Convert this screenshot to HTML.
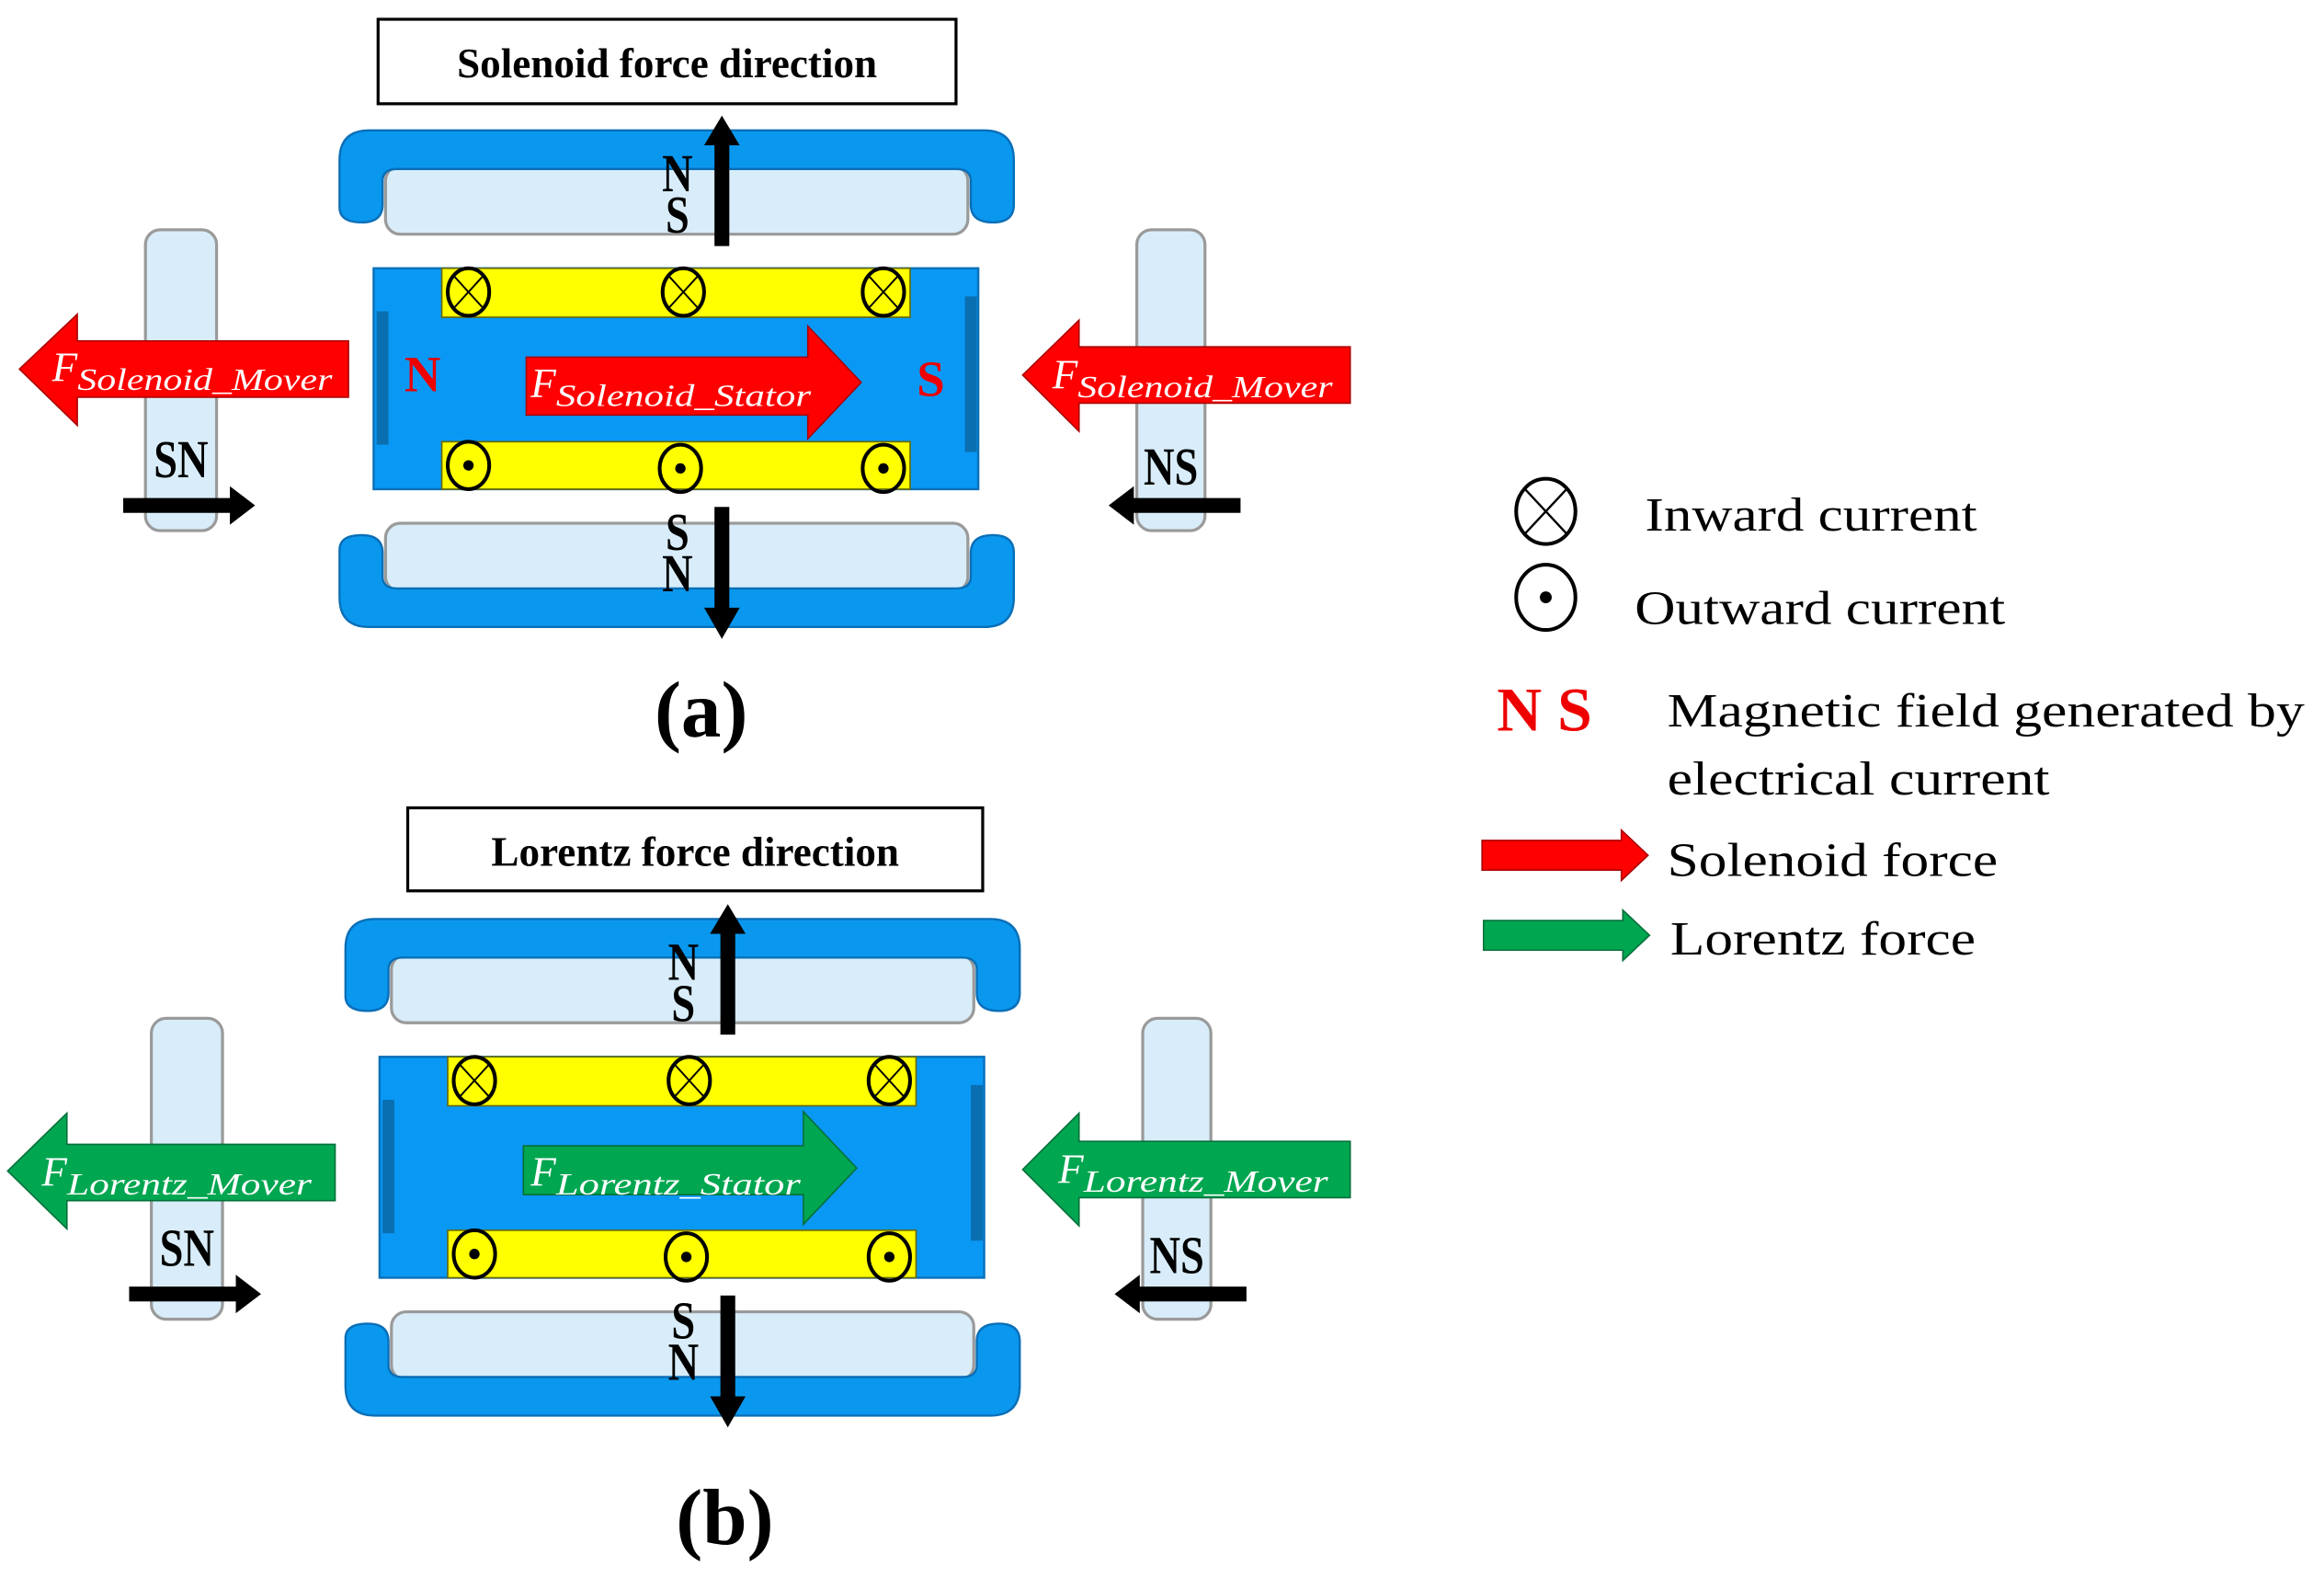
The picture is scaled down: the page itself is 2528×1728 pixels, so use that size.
<!DOCTYPE html>
<html><head><meta charset="utf-8"><style>
html,body{margin:0;padding:0;background:#fff;}
svg{display:block;}
text{font-family:"Liberation Serif",serif;}
</style></head><body>
<svg width="2528" height="1728" viewBox="0 0 1568 1072" xmlns="http://www.w3.org/2000/svg">
<defs>
<g id="frame">
  <rect x="260" y="112" width="393" height="46" rx="10" fill="#d8edf9" stroke="#9a9a9a" stroke-width="2"/>
  <path d="M229,140 V108 Q229,88 249,88 H664 Q684,88 684,108 V138 Q684,150 670,150 Q655,150 655,138 V122 Q655,114 645,114 H268 Q258,114 258,122 V138 Q258,150 244,150 Q229,150 229,140 Z" fill="#0a98ef" stroke="#0a6fb8" stroke-width="1.5"/>
</g>
<g id="xc"><ellipse cx="0" cy="0" rx="14" ry="16" fill="none" stroke="#000" stroke-width="2.5"/><path d="M-10,-11 L10,11 M10,-11 L-10,11" stroke="#000" stroke-width="1.2"/></g>
<g id="dc"><ellipse cx="0" cy="0" rx="14" ry="16" fill="none" stroke="#000" stroke-width="2.5"/><circle r="3.5" fill="#000"/></g>
<g id="core">
  <use href="#frame"/>
  <g transform="translate(0,511) scale(1,-1)"><use href="#frame"/></g>
  <rect x="98" y="155" width="48" height="203" rx="10" fill="#d8edf9" stroke="#9a9a9a" stroke-width="2"/>
  <rect x="767" y="155" width="46" height="203" rx="10" fill="#d8edf9" stroke="#9a9a9a" stroke-width="2"/>
  <rect x="252" y="181" width="408" height="149" fill="#0a98f5" stroke="#0a70b8" stroke-width="1.5"/>
  <rect x="254" y="210" width="8" height="90" fill="#0a6fb0"/>
  <rect x="651" y="200" width="8" height="105" fill="#0a6fb0"/>
  <rect x="298" y="181" width="316" height="33" fill="#ffff00" stroke="#6a6a00" stroke-width="1"/>
  <rect x="298" y="298" width="316" height="32" fill="#ffff00" stroke="#6a6a00" stroke-width="1"/>
  <use href="#xc" x="316" y="197"/><use href="#xc" x="461" y="197"/><use href="#xc" x="596" y="197"/>
  <use href="#dc" x="316" y="314"/><use href="#dc" x="459" y="316"/><use href="#dc" x="596" y="316"/>
  <rect x="482" y="96" width="10" height="70" fill="#000"/>
  <polygon points="475,98 487,78 499,98" fill="#000"/>
  <rect x="482" y="342" width="10" height="70" fill="#000"/>
  <polygon points="475,410 487,431 499,410" fill="#000"/>
  <g font-size="36" font-weight="bold">
  <text transform="translate(457,129) scale(0.8,1)" text-anchor="middle">N</text>
  <text transform="translate(457,157) scale(0.8,1)" text-anchor="middle">S</text>
  <text transform="translate(457,371) scale(0.8,1)" text-anchor="middle">S</text>
  <text transform="translate(457,399) scale(0.8,1)" text-anchor="middle">N</text>
  <text transform="translate(122,322) scale(0.8,1)" text-anchor="middle">SN</text>
  <text transform="translate(790,327) scale(0.8,1)" text-anchor="middle">NS</text>
  </g>
  <rect x="83" y="336" width="74" height="10" fill="#000"/>
  <polygon points="155,328 172,341 155,354" fill="#000"/>
  <rect x="763" y="336" width="74" height="10" fill="#000"/>
  <polygon points="765,328 748,341 765,354" fill="#000"/>
</g>
</defs>

<rect x="255" y="13" width="390" height="57" fill="#fff" stroke="#000" stroke-width="2"/>
<text x="450" y="52" font-size="28" font-weight="bold" text-anchor="middle">Solenoid force direction</text>
<use href="#core"/>
<text x="285" y="264" font-size="34" font-weight="bold" fill="#e00" text-anchor="middle">N</text>
<text x="628" y="267" font-size="34" font-weight="bold" fill="#e00" text-anchor="middle">S</text>
<polygon points="355,241 545,241 545,220 581,258 545,296 545,280 355,280" fill="#f00" stroke="#a00" stroke-width="1"/>
<text x="358" y="268" fill="#fff" font-style="italic" font-size="28">F<tspan font-size="21" dy="6" textLength="172" lengthAdjust="spacingAndGlyphs">Solenoid_Stator</tspan></text>
<polygon points="13,249 52,212 52,230 235,230 235,268 52,268 52,287" fill="#f00" stroke="#a00" stroke-width="1"/>
<text x="35" y="257" fill="#fff" font-style="italic" font-size="28">F<tspan font-size="21" dy="6" textLength="172" lengthAdjust="spacingAndGlyphs">Solenoid_Mover</tspan></text>
<polygon points="690,253 728,216 728,234 911,234 911,272 728,272 728,291" fill="#f00" stroke="#a00" stroke-width="1"/>
<text x="710" y="262" fill="#fff" font-style="italic" font-size="28">F<tspan font-size="21" dy="6" textLength="172" lengthAdjust="spacingAndGlyphs">Solenoid_Mover</tspan></text>
<text x="473" y="497" font-size="54" font-weight="bold" text-anchor="middle">(a)</text>

<rect x="275" y="545" width="388" height="56" fill="#fff" stroke="#000" stroke-width="2"/>
<text x="469" y="584" font-size="28" font-weight="bold" text-anchor="middle">Lorentz force direction</text>
<use href="#core" x="4" y="532"/>
<polygon points="353,773 542,773 542,750 578,788 542,826 542,806 353,806" fill="#00a650" stroke="#05703a" stroke-width="1"/>
<text x="358" y="800" fill="#fff" font-style="italic" font-size="28">F<tspan font-size="21" dy="6" textLength="165" lengthAdjust="spacingAndGlyphs">Lorentz_Stator</tspan></text>
<polygon points="5,790 45,751 45,772 226,772 226,810 45,810 45,829" fill="#00a650" stroke="#05703a" stroke-width="1"/>
<text x="28" y="800" fill="#fff" font-style="italic" font-size="28">F<tspan font-size="21" dy="6" textLength="165" lengthAdjust="spacingAndGlyphs">Lorentz_Mover</tspan></text>
<polygon points="690,789 728,751 728,770 911,770 911,808 728,808 728,827" fill="#00a650" stroke="#05703a" stroke-width="1"/>
<text x="714" y="798" fill="#fff" font-style="italic" font-size="28">F<tspan font-size="21" dy="6" textLength="165" lengthAdjust="spacingAndGlyphs">Lorentz_Mover</tspan></text>
<text x="489" y="1042" font-size="54" font-weight="bold" text-anchor="middle">(b)</text>

<ellipse cx="1043" cy="345" rx="20" ry="22" fill="none" stroke="#000" stroke-width="2.5"/>
<path d="M1029,330 L1057,360 M1057,330 L1029,360" stroke="#000" stroke-width="1.5"/>
<text x="1110" y="358" font-size="32" textLength="224" lengthAdjust="spacingAndGlyphs">Inward current</text>
<ellipse cx="1043" cy="403" rx="20" ry="22" fill="none" stroke="#000" stroke-width="2.5"/>
<circle cx="1043" cy="403" r="4" fill="#000"/>
<text x="1103" y="421" font-size="32" textLength="250" lengthAdjust="spacingAndGlyphs">Outward current</text>
<text x="1010" y="493" font-size="42" font-weight="bold" fill="#e00">N S</text>
<text x="1125" y="490" font-size="32" textLength="430" lengthAdjust="spacingAndGlyphs">Magnetic field generated by</text>
<text x="1125" y="536" font-size="32" textLength="258" lengthAdjust="spacingAndGlyphs">electrical current</text>
<polygon points="1000,567 1094,567 1094,560 1112,577 1094,594 1094,587 1000,587" fill="#f00" stroke="#a00" stroke-width="1"/>
<text x="1125" y="591" font-size="32" textLength="223" lengthAdjust="spacingAndGlyphs">Solenoid force</text>
<polygon points="1001,621 1095,621 1095,614 1113,631 1095,648 1095,641 1001,641" fill="#00a650" stroke="#05703a" stroke-width="1"/>
<text x="1127" y="644" font-size="32" textLength="206" lengthAdjust="spacingAndGlyphs">Lorentz force</text>
</svg>
</body></html>
